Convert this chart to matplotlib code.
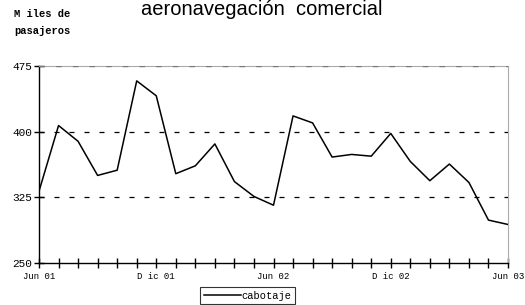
import matplotlib
matplotlib.use("Agg")
import matplotlib.pyplot as plt

months = ["Jun01","Jul01","Ago01","Sep01","Oct01","Nov01","Dic01","Ene02","Feb02","Mar02",
          "Abr02","May02","Jun02","Jul02","Ago02","Sep02","Oct02","Nov02","Dic02","Ene03",
          "Feb03","Mar03","Abr03","May03","Jun03"]
cabotaje = [332, 407, 389, 350, 356, 458, 441, 352, 361, 386, 343, 326, 316,
            418, 410, 371, 374, 372, 398, 366, 344, 363, 342, 299, 294]
tick_labels = {0: "Jun 01", 6: "D ic 01", 12: "Jun 02", 18: "D ic 02", 24: "Jun 03"}
yticks = [250, 325, 400, 475]

fig = plt.figure(figsize=(5.25, 3.05), dpi=100)
ax = fig.add_axes([39/525, 1-263/305, (508-39)/525, (263-66)/305])
x = list(range(len(months)))
line, = ax.plot(x, cabotaje, color="black", lw=1.1, label="cabotaje")
ax.set_xlim(0, len(months)-1)
ax.set_ylim(250, 475)
ax.set_yticks(yticks)
ax.set_yticklabels([str(v) for v in yticks], fontfamily="Liberation Mono", fontsize=8)
ax.set_xticks(x)
ax.set_xticklabels([tick_labels.get(i, "") for i in x], fontfamily="Liberation Mono", fontsize=6.5)
ax.tick_params(axis="x", direction="inout", length=7, width=1, pad=3)
ax.tick_params(axis="y", direction="inout", length=7, width=1, pad=1.5)
for v in [325, 400]:
    ax.axhline(v, color="black", lw=0.9, ls=(0, (4, 8)))
ax.axhline(475, color="#777777", lw=1.0, ls=(0, (4, 8)), zorder=3)
for s in ["left", "bottom"]:
    ax.spines[s].set_color("black")
    ax.spines[s].set_linewidth(1.0)
for s in ["top", "right"]:
    ax.spines[s].set_color("#aaaaaa")
    ax.spines[s].set_linewidth(0.8)

fig.text(0.498, 1-15/305, "aeronavegación  comercial", ha="center", va="baseline",
         fontfamily="Liberation Sans", fontsize=14.5)
fig.text(14/525, 1-14/305, "M iles de", ha="left", va="center",
         fontfamily="Liberation Mono", fontweight="bold", fontsize=7.5)
fig.text(14/525, 1-31/305, "pasajeros", ha="left", va="center",
         fontfamily="Liberation Mono", fontweight="bold", fontsize=7.5)

leg = fig.legend(handles=[line], loc="upper left", bbox_to_anchor=(200/525, 1-287/305),
                 prop={"family": "Liberation Mono", "size": 7.5}, frameon=True,
                 fancybox=False, edgecolor="black", handlelength=3.6, handletextpad=0.05,
                 borderpad=0.35, borderaxespad=0)
leg.get_frame().set_linewidth(0.8)

fig.savefig("out.png", dpi=100)
